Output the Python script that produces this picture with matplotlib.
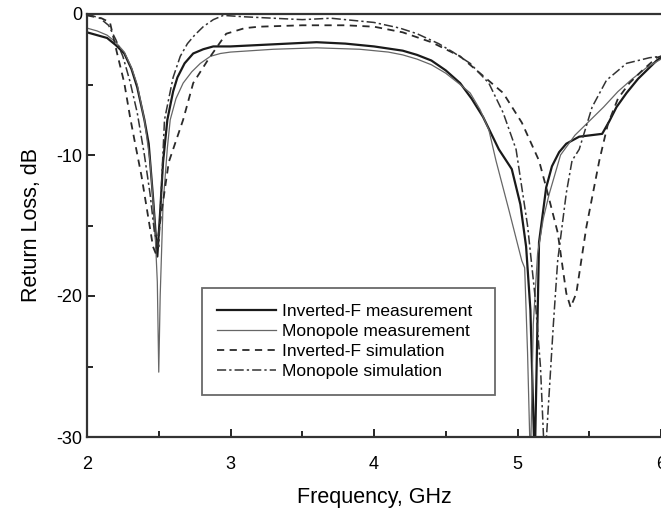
import numpy as np
import matplotlib
matplotlib.use('Agg')
import matplotlib.pyplot as plt

plt.rcParams['font.family'] = ['Liberation Sans', 'DejaVu Sans']
plt.rcParams['axes.unicode_minus'] = False

# Inverted-F measurement (thick solid)
f_if_meas = [2.0, 2.07, 2.14, 2.2, 2.26, 2.31, 2.35, 2.40, 2.43, 2.46, 2.49, 2.51, 2.53, 2.56,
             2.60, 2.63, 2.68, 2.74, 2.81, 2.88, 3.0, 3.2, 3.4, 3.6, 3.8, 4.0, 4.2, 4.3, 4.4,
             4.5, 4.6, 4.68, 4.76, 4.87, 4.96, 5.02, 5.06, 5.09, 5.12, 5.15, 5.20, 5.24, 5.29,
             5.34, 5.43, 5.51, 5.59, 5.64, 5.69, 5.76, 5.84, 5.92, 5.97, 6.0]
s_if_meas = [-1.3, -1.5, -1.7, -2.2, -2.8, -3.9, -5.2, -7.5, -9.2, -13.0, -17.2, -14.0, -10.5, -7.5,
             -5.5, -4.5, -3.5, -2.8, -2.5, -2.3, -2.3, -2.2, -2.1, -2.0, -2.1, -2.3, -2.6, -2.9, -3.3,
             -4.0, -4.9, -6.0, -7.3, -9.6, -11.0, -13.5, -16.5, -21.0, -32.0, -16.2, -12.3, -10.8, -9.8,
             -9.2, -8.7, -8.6, -8.5, -7.6, -6.6, -5.6, -4.6, -3.8, -3.3, -3.1]

# Monopole measurement (thin solid)
f_mp_meas = [2.0, 2.07, 2.14, 2.2, 2.26, 2.31, 2.35, 2.40, 2.44, 2.47, 2.49, 2.50, 2.51, 2.53,
             2.56, 2.58, 2.62, 2.67, 2.73, 2.79, 2.86, 2.93, 3.0, 3.3, 3.6, 3.9, 4.1, 4.2, 4.3,
             4.4, 4.5, 4.6, 4.67, 4.74, 4.80, 4.85, 4.94, 5.03, 5.05, 5.07, 5.09, 5.11, 5.14,
             5.18, 5.22, 5.3, 5.4, 5.5, 5.6, 5.7, 5.8, 5.9, 6.0]
s_mp_meas = [-1.0, -1.2, -1.5, -2.0, -2.7, -3.8, -5.0, -7.5, -10.5, -14.5, -19.0, -25.4, -20.0, -13.5,
             -9.5, -7.5, -6.0, -4.9, -4.1, -3.5, -3.0, -2.8, -2.7, -2.5, -2.4, -2.5, -2.7, -2.9, -3.2,
             -3.6, -4.2, -5.0, -5.6, -6.8, -8.2, -10.4, -13.9, -17.5, -18.0, -24.0, -32.0, -22.0, -17.0,
             -14.5, -12.8, -10.0, -8.6, -7.6, -6.6, -5.5, -4.6, -3.8, -3.2]

# Inverted-F simulation (dashed)
f_if_sim = [2.0, 2.1, 2.16, 2.21, 2.26, 2.30, 2.33, 2.38, 2.42, 2.46, 2.48, 2.52, 2.57, 2.62,
            2.67, 2.74, 2.84, 2.97, 3.1, 3.2, 3.5, 3.8, 4.0, 4.2, 4.4, 4.6, 4.75, 4.9, 5.03,
            5.15, 5.20, 5.28, 5.34, 5.37, 5.41, 5.48, 5.57, 5.63, 5.70, 5.78, 5.87, 5.97, 6.0]
s_if_sim = [-0.1, -0.3, -0.6, -2.8, -4.9, -7.3, -8.9, -11.5, -14.0, -16.5, -17.0, -14.0, -10.5, -9.0,
            -7.5, -4.9, -3.3, -1.4, -1.0, -0.9, -0.8, -0.8, -0.9, -1.3, -2.0, -3.0, -4.3, -5.6, -7.7,
            -10.4, -12.3, -15.5, -19.8, -20.8, -19.8, -15.1, -10.4, -7.8, -6.0, -4.9, -4.0, -3.1, -3.0]

# Monopole simulation (dash-dot)
f_mp_sim = [2.0, 2.09, 2.15, 2.20, 2.25, 2.30, 2.35, 2.40, 2.44, 2.47, 2.50, 2.52, 2.54, 2.57,
            2.60, 2.65, 2.70, 2.75, 2.81, 2.88, 2.95, 3.1, 3.3, 3.5, 3.7, 3.9, 4.0, 4.18, 4.3,
            4.45, 4.55, 4.67, 4.80, 4.90, 4.99, 5.07, 5.12, 5.16, 5.19, 5.22, 5.25, 5.28, 5.34,
            5.38, 5.43, 5.52, 5.62, 5.76, 5.92, 6.0]
s_mp_sim = [0.0, -0.3, -0.8, -1.8, -3.0, -4.8, -7.0, -10.0, -12.8, -15.5, -16.5, -12.0, -7.5, -6.0,
            -4.5, -3.0, -2.1, -1.5, -0.9, -0.4, -0.1, -0.2, -0.3, -0.4, -0.3, -0.5, -0.6, -1.0, -1.4,
            -2.1, -2.7, -3.5, -4.9, -7.0, -9.6, -15.0, -19.8, -25.0, -32.0, -27.0, -22.0, -17.5, -12.7,
            -10.4, -9.6, -6.6, -4.7, -3.5, -3.1, -3.0]

fig = plt.figure(figsize=(6.61, 5.13), dpi=100)
ax = fig.add_axes([87 / 661, 76 / 513, 574 / 661, 423 / 513])

ax.plot(f_if_meas, s_if_meas, color='#1a1a1a', lw=1.6, label='Inverted-F measurement')
ax.plot(f_mp_meas, s_mp_meas, color='#666666', lw=0.9, label='Monopole measurement')
ax.plot(f_if_sim, s_if_sim, color='#2a2a2a', lw=1.3, dashes=(4, 3), label='Inverted-F simulation')
ax.plot(f_mp_sim, s_mp_sim, color='#333333', lw=1.1, dashes=(6, 2, 1.5, 2), label='Monopole simulation')

ax.set_xlim(2, 6)
ax.set_ylim(-30, 0)
ax.set_xticks([2, 3, 4, 5, 6])
ax.set_xticks([2.5, 3.5, 4.5, 5.5], minor=True)
ax.set_yticks([-30, -20, -10, 0])
ax.set_yticks([-25, -15, -5], minor=True)
ax.tick_params(which='both', direction='in', labelsize=13, width=1.2)
ax.tick_params(which='major', length=6)
ax.tick_params(which='minor', length=4)
ax.tick_params(axis='x', pad=14)

for side in ['left', 'bottom', 'top']:
    ax.spines[side].set_linewidth(1.6)
    ax.spines[side].set_color('#333333')
ax.spines['right'].set_visible(False)

ax.set_xlabel('Frequency, GHz', fontsize=15.5, labelpad=10)
ax.set_ylabel('Return Loss, dB', fontsize=15.5, labelpad=10)

leg = ax.legend(loc='upper left', bbox_to_anchor=(0.2, 0.0, 0.511, 0.352), mode='expand',
                fontsize=12.5, frameon=True, fancybox=False, edgecolor='#444444',
                handlelength=3.4, handletextpad=0.3, labelspacing=0.28, borderpad=0.9,
                borderaxespad=0)
leg.get_frame().set_linewidth(1.3)

fig.savefig('out.png', dpi=100)
